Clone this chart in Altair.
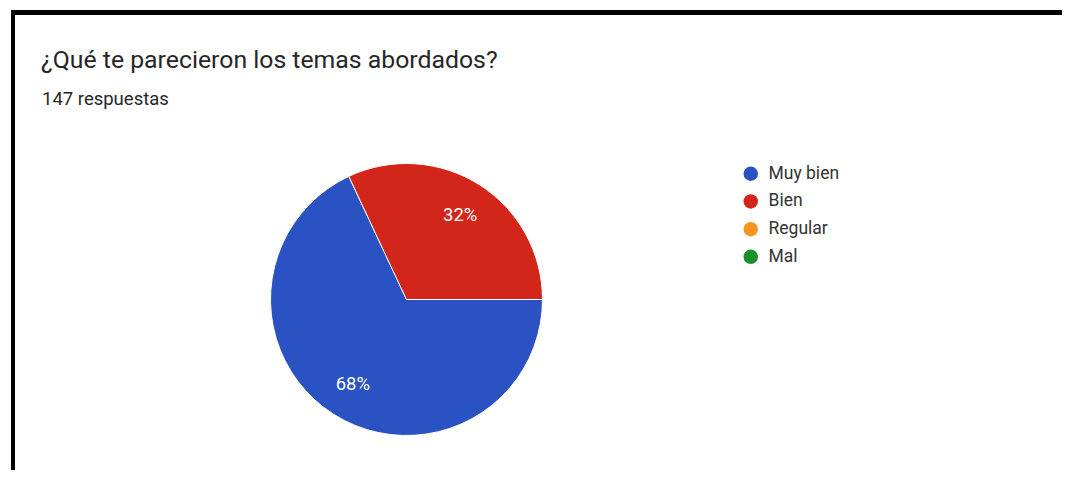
import math
import altair as alt
import pandas as pd

categories = ["Muy bien", "Bien", "Regular", "Mal"]
counts = [100, 47, 0, 0]
colors = ["#2a52c2", "#d3261a", "#f7931e", "#1a8f2a"]
title_text = "¿Qué te parecieron los temas abordados?"
subtitle_text = "147 respuestas"

df = pd.DataFrame({"cat": categories, "n": counts, "ord": list(range(len(categories)))})

W, H = 1054, 462
cx, cy, R = 395.5, 289.5, 136
FONT = "Roboto"

base = alt.Chart(df).encode(
    theta=alt.Theta("n:Q", stack=True,
                    scale=alt.Scale(range=[math.pi / 2, math.pi / 2 + 2 * math.pi])),
    order=alt.Order("ord:Q"),
)

pie = base.mark_arc(radius=R, stroke="white", strokeWidth=1).encode(
    x=alt.value(cx), y=alt.value(cy),
    color=alt.Color(
        "cat:N", sort=categories,
        scale=alt.Scale(domain=categories, range=colors),
        legend=alt.Legend(
            title=None, orient="none", direction="vertical",
            legendX=731, legendY=155,
            symbolType="circle", symbolSize=210, symbolStrokeWidth=0, symbolOpacity=1,
            labelFont=FONT, labelFontSize=17.5, labelColor="#333333",
            labelOffset=9, rowPadding=8.7,
        ),
    ),
)

labels = base.transform_joinaggregate(total="sum(n)").transform_calculate(
    pct="format(datum.n / datum.total, '.0%')"
).transform_filter("datum.n > 0").mark_text(
    radius=100, color="white", fontSize=18.5, font=FONT
).encode(text="pct:N", x=alt.value(cx), y=alt.value(cy))

title = alt.Chart(pd.DataFrame({"t": [title_text]})).mark_text(
    align="left", baseline="alphabetic", fontSize=24.8, font=FONT, color="#262626"
).encode(text="t:N", x=alt.value(30), y=alt.value(58))

subtitle = alt.Chart(pd.DataFrame({"t": [subtitle_text]})).mark_text(
    align="left", baseline="alphabetic", fontSize=18.5, font=FONT, color="#262626",
).encode(text="t:N", x=alt.value(31), y=alt.value(95))

frame = pd.DataFrame({"k": [1]})
left_line = alt.Chart(frame).mark_rule(color="black", strokeWidth=4).encode(
    x=alt.value(2), y=alt.value(0), y2=alt.value(H))
top_line = alt.Chart(frame).mark_rule(color="black", strokeWidth=5).encode(
    x=alt.value(0), x2=alt.value(W), y=alt.value(2.5))

chart = alt.layer(pie, labels, title, subtitle, left_line, top_line).properties(
    width=W, height=H, padding=0,
    autosize=alt.AutoSizeParams(type="fit", contains="padding"),
).configure_view(stroke=None)

chart.save("out.html", embed_options={"renderer": "svg", "actions": False})
